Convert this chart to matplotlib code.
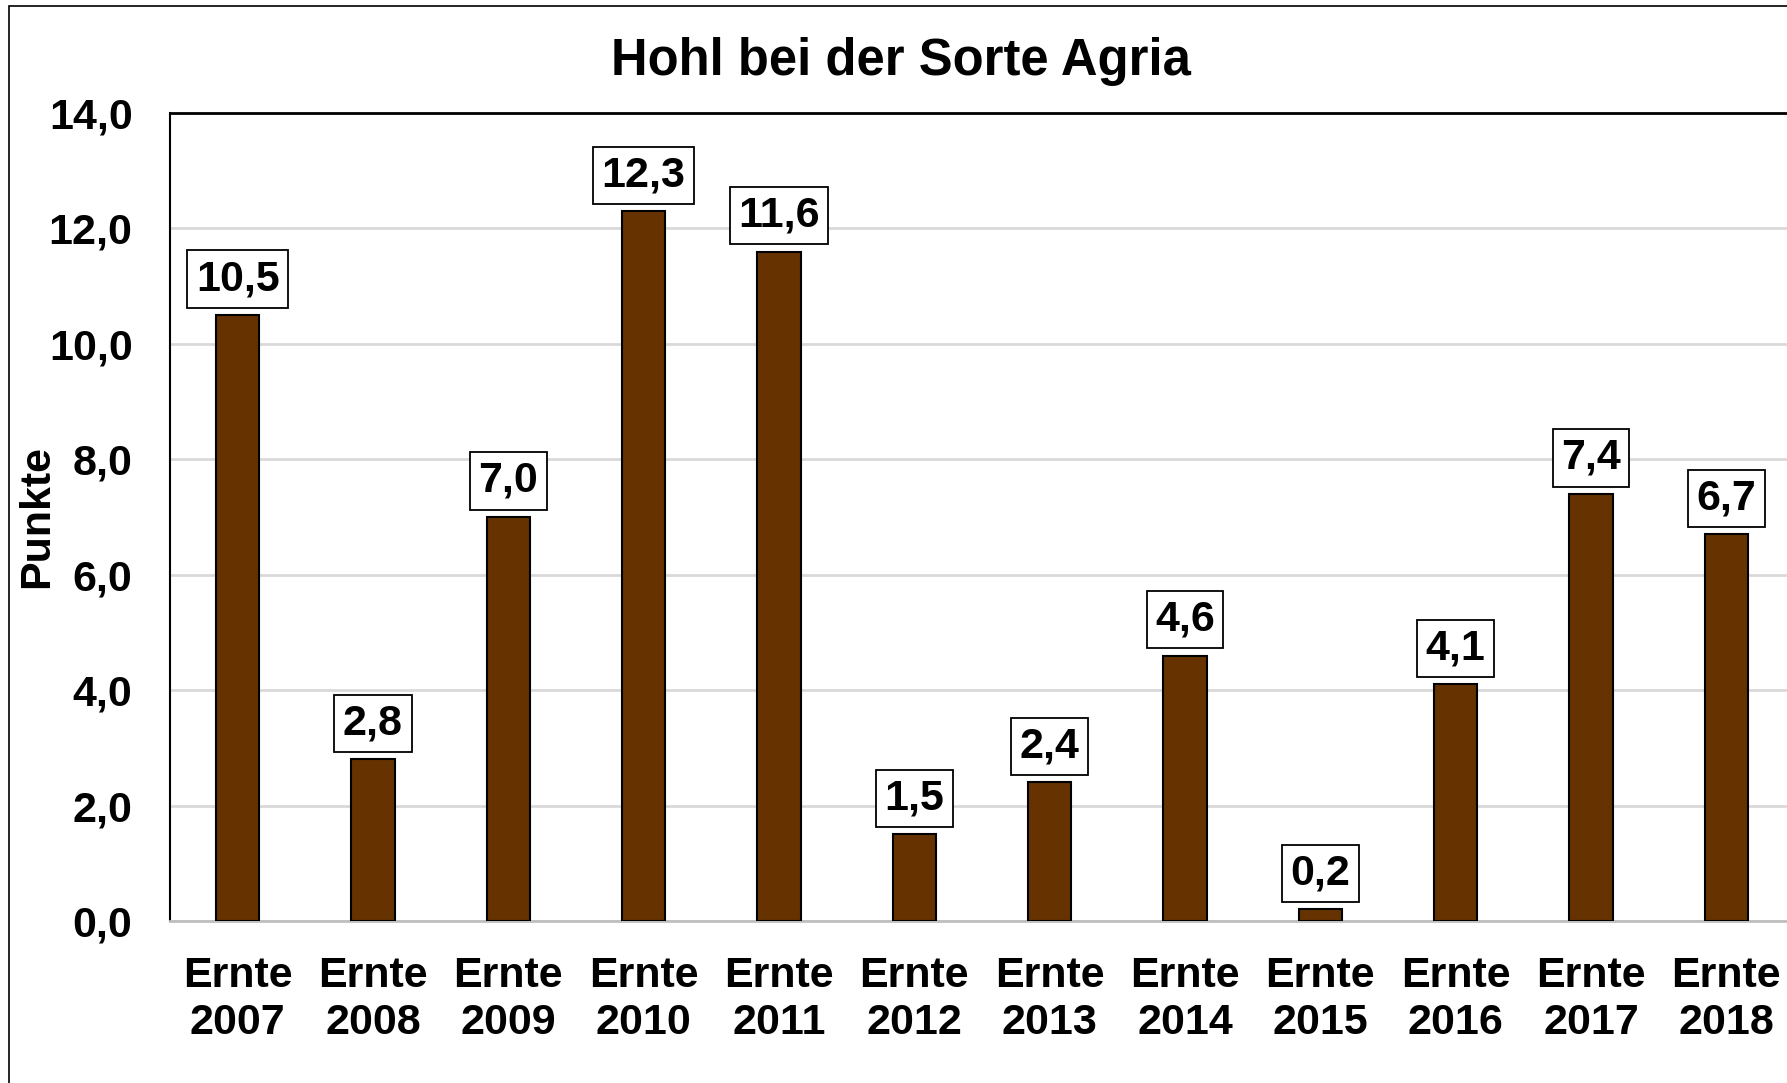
import numpy as np
import matplotlib

matplotlib.use("Agg")
import matplotlib.pyplot as plt
from matplotlib.patches import Rectangle

plt.rcParams["font.family"] = ["Liberation Sans", "DejaVu Sans"]
plt.rcParams["font.weight"] = "bold"

jahre = ["2007", "2008", "2009", "2010", "2011", "2012",
         "2013", "2014", "2015", "2016", "2017", "2018"]
werte = [10.5, 2.8, 7.0, 12.3, 11.6, 1.5, 2.4, 4.6, 0.2, 4.1, 7.4, 6.7]
y_ticks = [0, 2, 4, 6, 8, 10, 12, 14]

def komma(v):
    return f"{v:.1f}".replace(".", ",")

fig = plt.figure(figsize=(17.87, 10.83), dpi=100)
ax = fig.add_axes([170 / 1787, 1 - 921 / 1083, 1624 / 1787, (921 - 113) / 1083])

# aeusserer Rahmen (rechts und unten abgeschnitten)
fig.patches.append(Rectangle((9 / 1787, -0.1), 1.2, 1.1 - 6 / 1083,
                             transform=fig.transFigure, fill=False,
                             edgecolor="black", linewidth=1.2))

x = np.arange(len(jahre))
ax.bar(x, werte, width=0.32, color="#663300", edgecolor="black", linewidth=1.5, zorder=3)

for xi, v in zip(x, werte):
    ax.annotate(komma(v), (xi, v), xytext=(0, 16), textcoords="offset pixels",
                ha="center", va="bottom", fontsize=31, fontweight="bold",
                bbox=dict(boxstyle="square,pad=0.2", facecolor="white",
                          edgecolor="black", linewidth=1.3), zorder=4)

ax.set_xlim(-0.5, len(jahre) - 0.5)
ax.set_ylim(0, 14)
ax.set_yticks(y_ticks)
ax.set_yticklabels([komma(t) for t in y_ticks], fontsize=31, fontweight="bold")
ax.set_xticks(x)
ax.set_xticklabels(["Ernte\n" + j for j in jahre], fontsize=31, fontweight="bold",
                   linespacing=1.24)
ax.tick_params(axis="y", length=0, pad=27)
ax.tick_params(axis="x", length=0, pad=25)

ax.yaxis.grid(True, color="#d9d9d9", linewidth=2, zorder=0)
ax.set_axisbelow(True)
ax.spines["right"].set_visible(False)
ax.spines["top"].set_linewidth(2)
ax.spines["left"].set_linewidth(1.5)
ax.spines["bottom"].set_color("#bfbfbf")
ax.spines["bottom"].set_linewidth(2)

ax.set_ylabel("Punkte", fontsize=31, fontweight="bold")
ax.yaxis.set_label_coords(-113 / 1624, 0.5)

fig.text(901 / 1787, 1 - 61 / 1083, "Hohl bei der Sorte Agria", ha="center", va="center",
         fontsize=36.5, fontweight="bold")

fig.savefig("out.png", dpi=100)
